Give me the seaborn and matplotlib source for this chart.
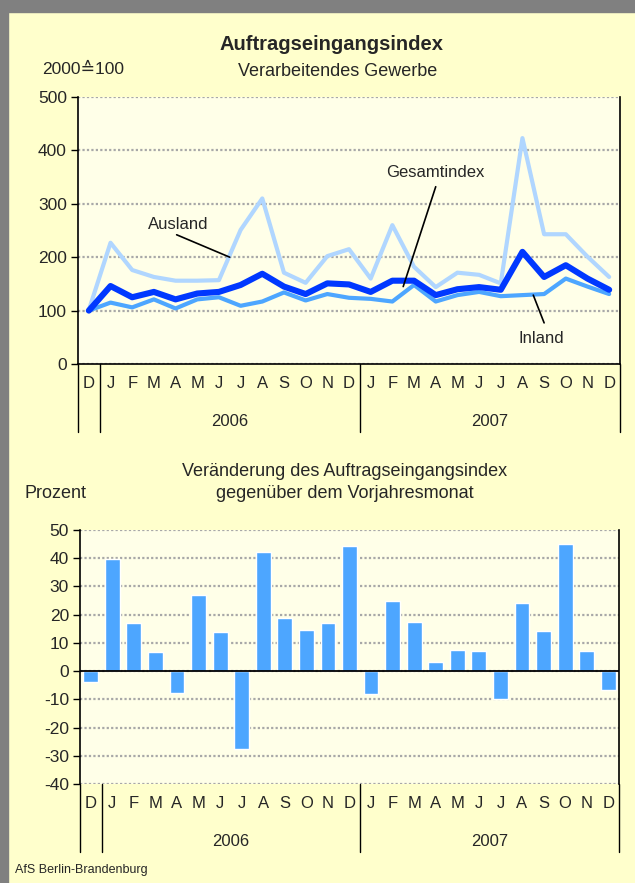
import matplotlib
matplotlib.use("Agg")
import matplotlib.pyplot as plt
import matplotlib.transforms as mtransforms
from matplotlib.patches import Rectangle
import numpy as np
import pandas as pd
import seaborn as sns

# ---------------- data ----------------
months = ["D", "J", "F", "M", "A", "M", "J", "J", "A", "S", "O", "N", "D",
          "J", "F", "M", "A", "M", "J", "J", "A", "S", "O", "N", "D"]
years = ["2006", "2007"]
ausland = [101, 227, 176, 163, 156, 156, 157, 251, 310, 171, 152, 202, 215,
           160, 260, 182, 144, 171, 167, 151, 423, 243, 243, 201, 163]
gesamt = [100, 146, 125, 135, 121, 132, 135, 148, 169, 145, 131, 151, 149,
          135, 156, 156, 129, 140, 144, 139, 210, 163, 185, 160, 139]
inland = [100, 115, 106, 121, 104, 121, 125, 109, 117, 134, 119, 131, 124,
          122, 117, 148, 117, 129, 135, 127, 129, 131, 160, 145, 131]
veraenderung = [-3.8, 39.8, 17.0, 6.7, -7.7, 27.0, 13.8, -27.7, 42.2, 18.8, 14.6, 17.0, 44.4,
                -8.0, 24.9, 17.4, 3.2, 7.5, 7.1, -9.8, 24.1, 14.2, 45.1, 7.1, -6.6]

idx = list(range(len(months)))
df = pd.DataFrame({"idx": idx, "Ausland": ausland, "Gesamtindex": gesamt,
                   "Inland": inland, "chg": veraenderung})

# ---------------- style ----------------
sns.set_style("white")
plt.rcParams["font.family"] = ["Liberation Sans", "DejaVu Sans"]
plt.rcParams["axes.unicode_minus"] = False

BG = "#FFFFCC"
AXBG = "#FFFFE8"
GRID = "#A8A8A8"
C_AUS = "#B0D6FF"
C_INL = "#4DA6FF"
C_GES = "#0038FF"
C_BAR = "#4DA6FF"

W, H = 635, 883
fig = plt.figure(figsize=(W / 100, H / 100), dpi=100, facecolor=BG)

# grey frame strips (top & left)
fig.patches.append(Rectangle((0, 1 - 12 / H), 1, 12 / H, transform=fig.transFigure,
                             color="#808080", zorder=0))
fig.patches.append(Rectangle((0, 0), 8 / W, 1, transform=fig.transFigure,
                             color="#808080", zorder=0))


def fpos(left, right, top, bottom):
    return [left / W, (H - bottom) / H, (right - left) / W, (bottom - top) / H]


def style_axis(ax, ymin, ymax, ystep, below_px, axh_px):
    ax.set_facecolor(AXBG)
    ax.set_xlim(-0.5, len(months) - 0.5)
    ax.set_ylim(ymin, ymax)
    ax.set_yticks(np.arange(ymin, ymax + 1, ystep))
    for y in np.arange(ymin, ymax + 1, ystep):
        ax.axhline(y, color=GRID, lw=1.6, ls=(0, (1, 1)), zorder=0.5)
    ax.set_xticks(idx)
    ax.set_xticklabels(months, fontsize=12)
    ax.tick_params(axis="x", length=0, pad=9)
    ax.tick_params(axis="y", length=5, width=1, color="black", labelsize=12.5, pad=3,
                   direction="out", left=True)
    ax.set_xlabel("")
    ax.set_ylabel("")
    ax.spines["top"].set_visible(False)
    for s in ["left", "right", "bottom"]:
        ax.spines[s].set_color("black")
        ax.spines[s].set_linewidth(1.2)
    trans = mtransforms.blended_transform_factory(ax.transData, ax.transAxes)
    for xb in [-0.5, 0.5, 12.5, len(months) - 0.5]:
        ax.plot([xb, xb], [0, -below_px / axh_px], transform=trans, color="black",
                lw=1, clip_on=False)
    for yi, yr in enumerate(years):
        ax.text(6.5 + 12 * yi, -57 / axh_px, yr, transform=trans, ha="center",
                va="center", fontsize=12)


def label_line(ax, text, txy, p0, p1):
    ax.text(txy[0], txy[1], text, fontsize=12, ha="center", va="center", zorder=6)
    ax.plot([p0[0], p1[0]], [p0[1], p1[1]], color="black", lw=1.2, zorder=6)


# ---------------- top chart ----------------
ax1 = fig.add_axes(fpos(78, 620, 97, 364))
sns.lineplot(data=df, x="idx", y="Ausland", ax=ax1, color=C_AUS, lw=3.0, zorder=3)
sns.lineplot(data=df, x="idx", y="Inland", ax=ax1, color=C_INL, lw=3.0, zorder=4)
sns.lineplot(data=df, x="idx", y="Gesamtindex", ax=ax1, color=C_GES, lw=4.4, zorder=5)
style_axis(ax1, 0, 500, 100, 68, 267)

label_line(ax1, "Ausland", (4.1, 261), (4.05, 242), (6.5, 200))
label_line(ax1, "Gesamtindex", (16.0, 358), (16.0, 332), (14.5, 145))
label_line(ax1, "Inland", (20.85, 47), (20.5, 129), (21.0, 77))

fig.text(331 / W, (H - 45) / H, "Auftragseingangsindex", ha="center", va="center",
         fontsize=14.5, fontweight="bold")
fig.text(338 / W, (H - 71) / H, "Verarbeitendes Gewerbe", ha="center", va="center",
         fontsize=13)
fig.text(42 / W, (H - 70) / H, "2000\u2259100", ha="left", va="center", fontsize=12.5)

# ---------------- bottom chart ----------------
ax2 = fig.add_axes(fpos(80, 619, 530, 784))
sns.barplot(data=df, x="idx", y="chg", ax=ax2, color=C_BAR, saturation=1,
            width=0.69, zorder=3)
style_axis(ax2, -40, 50, 10, 68, 254)
ax2.spines["bottom"].set_visible(False)
ax2.axhline(0, color="black", lw=1.3, zorder=4)

fig.text(345 / W, (H - 472) / H, "Veränderung des Auftragseingangsindex",
         ha="center", va="center", fontsize=13)
fig.text(345 / W, (H - 494) / H, "gegenüber dem Vorjahresmonat",
         ha="center", va="center", fontsize=13)
fig.text(25 / W, (H - 493) / H, "Prozent", ha="left", va="center", fontsize=13)

fig.text(15 / W, (H - 870) / H, "AfS Berlin-Brandenburg", ha="left", va="center",
         fontsize=9)

fig.savefig("out.png", dpi=100, facecolor=BG)
